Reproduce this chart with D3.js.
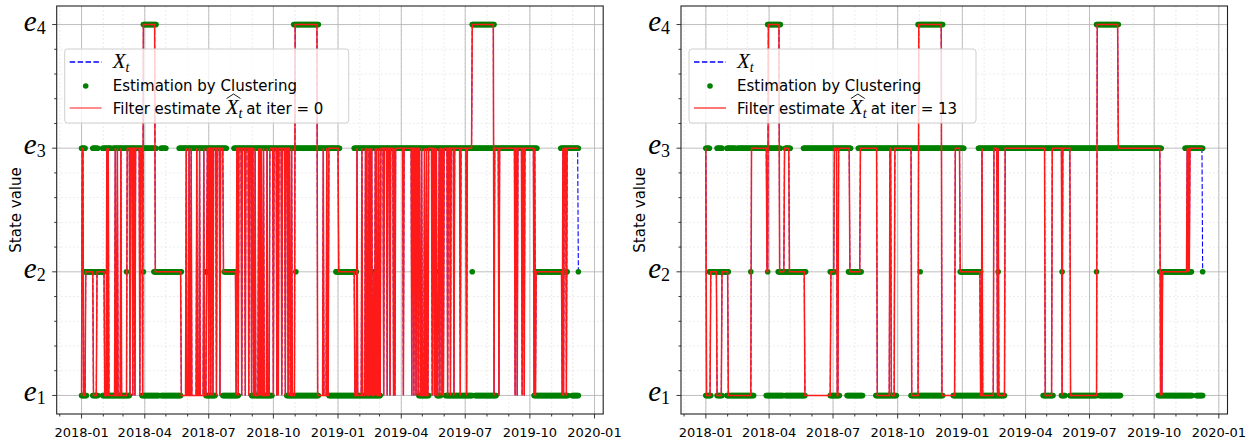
<!DOCTYPE html>
<html>
<head>
<meta charset="utf-8">
<script src="https://cdn.jsdelivr.net/npm/d3@7"></script>
<style>
  body { margin: 0; background: #fff; }
  svg { display: block; font-family: "DejaVu Sans", sans-serif; }
</style>
</head>
<body>
<svg id="chart" width="1252" height="443"></svg>
<script>
/////////////////////////////////////
///      DATA  (days counted from 2018-01-01)
/////////////////////////////////////
var startDay = Date.UTC(2018, 0, 1);
var lastDay = 707;
var stateNames = ["1", "2", "3", "4"];
var iterations = ["0", "13"];

// estimation by clustering: day intervals where each state is shown
var clusterE1 = [[0,7],[16,23],[30,68],[86,110],[113,141],[177,190],[201,223],[242,271],[292,337],[352,425],[480,494],[506,511],[518,556],[560,590],[644,692],[698,707]];
var clusterE2 = [[5,32],[64,64],[88,88],[103,142],[177,183],[203,221],[305,305],[362,391],[416,416],[507,507],[556,556],[646,691],[707,707]];
var clusterE3 = [[0,5],[16,23],[30,42],[45,106],[113,120],[139,206],[217,367],[388,648],[682,707]];
var clusterE4 = [[88,106],[302,337],[556,587]];

// filter estimate, runs of [first day, state]
var filterIter0 = [[0,1],[1,3],[3,1],[6,2],[17,1],[22,2],[33,1],[36,3],[37,1],[38,3],[39,1],[48,3],[49,1],[51,3],[52,1],[56,3],[57,1],[65,3],[69,1],[70,3],[73,1],[74,3],[76,1],[77,3],[83,1],[84,3],[87,1],[88,4],[105,2],[142,1],[149,3],[150,1],[153,3],[154,1],[156,3],[157,1],[164,3],[165,1],[168,3],[169,1],[174,3],[175,1],[178,2],[179,3],[181,1],[182,3],[184,1],[185,3],[187,1],[188,3],[192,1],[193,3],[197,1],[198,3],[202,2],[220,1],[221,3],[223,1],[224,3],[228,1],[229,3],[233,1],[234,3],[238,1],[239,3],[242,1],[243,3],[245,1],[247,3],[248,1],[252,3],[253,1],[254,3],[255,1],[256,3],[257,1],[259,3],[260,1],[264,3],[265,1],[268,3],[273,1],[274,3],[278,1],[279,3],[280,1],[281,3],[285,1],[286,3],[290,1],[291,3],[294,1],[295,3],[297,1],[299,3],[300,1],[304,4],[336,1],[344,3],[345,1],[349,3],[350,1],[352,3],[366,2],[389,1],[392,3],[393,1],[399,3],[400,1],[404,3],[405,1],[406,3],[407,1],[409,3],[410,1],[411,3],[412,1],[413,3],[414,1],[416,2],[417,1],[418,3],[419,1],[420,3],[421,1],[423,3],[424,1],[426,3],[430,1],[431,3],[435,1],[436,3],[439,1],[440,3],[444,1],[445,3],[446,1],[447,3],[458,1],[459,3],[470,1],[471,3],[473,1],[474,3],[476,1],[477,3],[479,1],[480,3],[482,1],[484,3],[485,1],[488,3],[489,1],[491,3],[492,1],[494,3],[499,1],[500,3],[502,1],[503,3],[504,1],[505,3],[506,1],[508,2],[509,3],[510,1],[511,3],[513,1],[514,3],[515,1],[516,3],[521,1],[522,3],[525,1],[526,3],[530,1],[531,3],[539,1],[540,3],[548,1],[549,3],[556,4],[587,1],[588,3],[594,1],[595,3],[617,1],[618,3],[620,1],[621,3],[627,1],[628,3],[630,1],[631,3],[644,1],[645,3],[646,1],[647,2],[684,1],[685,3],[686,1],[687,3],[690,1],[691,3]];
var filterIter13 = [[0,3],[1,1],[7,2],[16,1],[23,2],[32,1],[65,3],[87,2],[89,4],[105,2],[112,3],[119,2],[141,1],[178,2],[183,3],[187,1],[189,3],[205,2],[220,3],[244,1],[262,3],[264,1],[269,3],[293,1],[303,4],[336,1],[355,3],[362,2],[391,1],[393,3],[394,1],[410,3],[415,1],[416,3],[417,1],[426,3],[483,1],[493,3],[507,1],[508,3],[519,1],[557,4],[587,3],[647,1],[648,2],[649,1],[650,2],[685,3],[686,2],[687,3],[688,2],[689,3]];
// X_t differs from the filter only on the last day
var xtTail = [[707,2]];

/////////////////////////////////////
///      HELPERS
/////////////////////////////////////
function dayDate(d) { return new Date(startDay + d * 864e5); }

function expandRuns(runs) {
  var pts = [];
  runs.forEach(function(r, i) {
    var next = i < runs.length - 1 ? runs[i + 1][0] : lastDay + 1;
    for (var d = r[0]; d < next; d++) pts.push({d: d, v: r[1]});
  });
  return pts;
}

function expandIntervals(list, state) {
  var pts = [];
  list.forEach(function(iv) {
    for (var d = iv[0]; d <= iv[1]; d++) pts.push({d: d, v: state});
  });
  return pts;
}

// place a row of text pieces one after the other
function richText(g, x, y, parts) {
  var cx = x;
  parts.forEach(function(p) {
    var t = g.append("text")
      .attr("x", cx).attr("y", y + (p.dy || 0))
      .attr("font-family", p.font || "DejaVu Sans")
      .attr("font-size", p.size || 15)
      .attr("font-style", p.italic ? "italic" : "normal")
      .attr("fill", "#000")
      .text(p.text);
    var w = t.node().getComputedTextLength();
    if (p.hat) {
      g.append("path")
        .attr("d", "M" + (cx + 1) + "," + (y - 15) + " L" + (cx + w / 2 + 1.5) + "," + (y - 19.5) + " L" + (cx + w + 2) + "," + (y - 15))
        .attr("fill", "none").attr("stroke", "#000").attr("stroke-width", 0.9);
    }
    cx += w + (p.after || 0);
  });
}

var cluster = [].concat(
  expandIntervals(clusterE1, 1), expandIntervals(clusterE2, 2),
  expandIntervals(clusterE3, 3), expandIntervals(clusterE4, 4));

var svg = d3.select("#chart");

/////////////////////////////////////
///      PANELS
/////////////////////////////////////
function drawPanel(left, filterRuns, iter) {
  var x0 = left, x1 = left + 546.5, yTop = 6, yBot = 414;
  var x = d3.scaleUtc().domain([dayDate(-35.35), dayDate(lastDay + 35.35)]).range([x0, x1]);
  var y = d3.scaleLinear().domain([0.85, 4.15]).range([yBot, yTop]);
  var g = svg.append("g");

  var majorX = x.ticks(d3.utcMonth.every(3));
  var minorX = x.ticks(d3.utcMonth.every(1));
  var minorY = d3.range(1, 4.01, 0.2).filter(function(v) { return Math.abs(v - Math.round(v)) > 0.01; });
  var majorY = [1, 2, 3, 4];

  // minor grid
  g.selectAll(".mgx").data(minorX).enter().append("line")
    .attr("x1", function(d) { return x(d); }).attr("x2", function(d) { return x(d); })
    .attr("y1", yTop).attr("y2", yBot)
    .attr("stroke", "#e4e4e4").attr("stroke-width", 0.7).attr("stroke-dasharray", "2,2");
  g.selectAll(".mgy").data(minorY).enter().append("line")
    .attr("x1", x0).attr("x2", x1)
    .attr("y1", function(d) { return y(d); }).attr("y2", function(d) { return y(d); })
    .attr("stroke", "#e4e4e4").attr("stroke-width", 0.7).attr("stroke-dasharray", "2,2");
  // major grid
  g.selectAll(".gx").data(majorX).enter().append("line")
    .attr("x1", function(d) { return x(d); }).attr("x2", function(d) { return x(d); })
    .attr("y1", yTop).attr("y2", yBot)
    .attr("stroke", "#b8b8b8").attr("stroke-width", 0.9);
  g.selectAll(".gy").data(majorY).enter().append("line")
    .attr("x1", x0).attr("x2", x1)
    .attr("y1", function(d) { return y(d); }).attr("y2", function(d) { return y(d); })
    .attr("stroke", "#b8b8b8").attr("stroke-width", 0.9);

  var line = d3.line()
    .x(function(p) { return x(dayDate(p.d)); })
    .y(function(p) { return y(p.v); });

  // X_t (blue dashed), mostly hidden under the filter line
  g.append("path")
    .datum(expandRuns(filterRuns.concat(xtTail)))
    .attr("d", line)
    .attr("fill", "none").attr("stroke", "#0000ff")
    .attr("stroke-width", 1.1).attr("stroke-dasharray", "5,2.2");

  // clustering estimate
  g.append("g").selectAll("circle").data(cluster).enter().append("circle")
    .attr("cx", function(p) { return x(dayDate(p.d)); })
    .attr("cy", function(p) { return y(p.v); })
    .attr("r", 2.8).attr("fill", "#008000");

  // filter estimate
  g.append("path")
    .datum(expandRuns(filterRuns))
    .attr("d", line)
    .attr("fill", "none").attr("stroke", "#ff1a1a")
    .attr("stroke-width", 1.5);

  // frame
  g.append("rect").attr("x", x0).attr("y", yTop).attr("width", x1 - x0).attr("height", yBot - yTop)
    .attr("fill", "none").attr("stroke", "#222").attr("stroke-width", 1.1);

  // x ticks
  g.selectAll(".tx").data(minorX).enter().append("line")
    .attr("x1", function(d) { return x(d); }).attr("x2", function(d) { return x(d); })
    .attr("y1", yBot).attr("y2", function(d) { return d.getUTCMonth() % 3 === 0 ? yBot + 4.5 : yBot + 2.5; })
    .attr("stroke", "#222").attr("stroke-width", 0.9);
  g.selectAll(".lx").data(majorX).enter().append("text")
    .attr("x", function(d) { return x(d); }).attr("y", 437)
    .attr("text-anchor", "middle").attr("font-size", 13)
    .text(d3.utcFormat("%Y-%m"));

  // y ticks
  g.selectAll(".ty").data(majorY.concat(minorY)).enter().append("line")
    .attr("x1", function(d) { return majorY.indexOf(d) >= 0 ? x0 - 4.5 : x0 - 2.5; }).attr("x2", x0)
    .attr("y1", function(d) { return y(d); }).attr("y2", function(d) { return y(d); })
    .attr("stroke", "#222").attr("stroke-width", 0.9);
  majorY.forEach(function(v, i) {
    var t = g.append("text")
      .attr("x", x0 - 11).attr("y", y(v) + 6)
      .attr("text-anchor", "end").attr("font-family", "Liberation Serif");
    t.append("tspan").attr("font-style", "italic").attr("font-size", 29).text("e");
    t.append("tspan").attr("font-size", 18).attr("dy", 3).text(stateNames[i]);
  });

  g.append("text")
    .attr("transform", "translate(" + (x0 - 36) + "," + 210 + ") rotate(-90)")
    .attr("text-anchor", "middle").attr("font-size", 15)
    .text("State value");

  // legend
  var lg = g.append("g");
  lg.append("rect").attr("x", x0 + 8).attr("y", 49).attr("width", iter === "0" ? 284 : 287).attr("height", 74)
    .attr("rx", 3).attr("fill", "#fff").attr("fill-opacity", 0.8)
    .attr("stroke", "#d0d0d0").attr("stroke-width", 1);
  lg.append("line").attr("x1", x0 + 13).attr("x2", x0 + 45).attr("y1", 62).attr("y2", 62)
    .attr("stroke", "#0000ff").attr("stroke-width", 1.6).attr("stroke-dasharray", "5.5,2.4");
  lg.append("circle").attr("cx", x0 + 29).attr("cy", 86).attr("r", 2.8).attr("fill", "#008000");
  lg.append("line").attr("x1", x0 + 13).attr("x2", x0 + 45).attr("y1", 108).attr("y2", 108)
    .attr("stroke", "#ff1a1a").attr("stroke-width", 1.2);
  var tx = x0 + 56;
  richText(lg, tx, 68, [
    {text: "X", font: "Liberation Serif", italic: true, size: 21},
    {text: "t", font: "Liberation Serif", italic: true, size: 14, dy: 4}
  ]);
  richText(lg, tx, 91, [{text: "Estimation by Clustering"}]);
  richText(lg, tx, 113.5, [
    {text: "Filter estimate", after: 5},
    {text: "X", font: "Liberation Serif", italic: true, size: 21, hat: true},
    {text: "t", font: "Liberation Serif", italic: true, size: 14, dy: 4, after: 4},
    {text: "at iter = " + iter}
  ]);
}

drawPanel(56.7, filterIter0, iterations[0]);
drawPanel(681, filterIter13, iterations[1]);
</script>
</body>
</html>
